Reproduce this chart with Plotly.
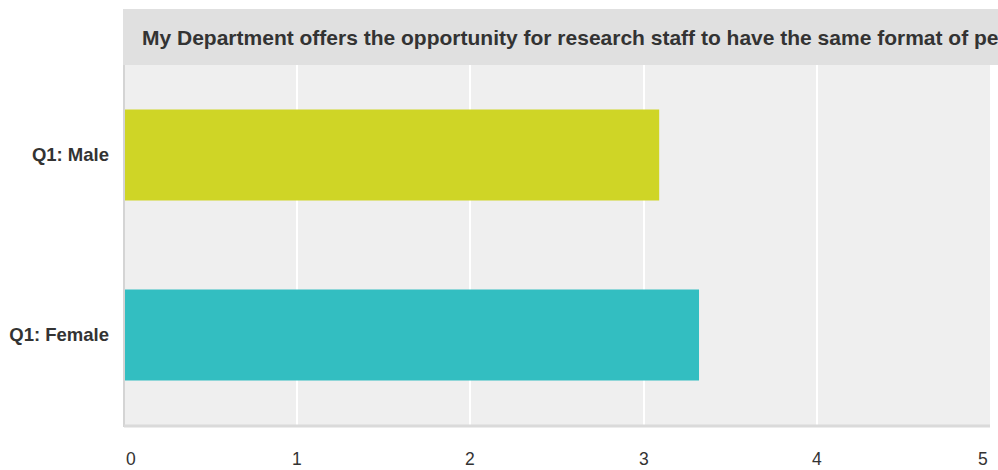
import plotly.graph_objects as go

# Survey responses: mean score per group
categories = ["Q1: Female", "Q1: Male"]
values = [3.32, 3.09]
bar_colors = ["#33bec1", "#cfd526"]
tick_values = [0, 1, 2, 3, 4, 5]
tick_labels = ["0", "1", "2", "3", "4", "5"]
title_text = ("My Department offers the opportunity for research staff to have the "
              "same format of pe")

FONT = "Liberation Sans, Arial, Helvetica, sans-serif"
TEXT = "#333333"
PLOT_W = 866   # plot area width in px
PLOT_H = 360   # plot area height in px

fig = go.Figure(
    go.Bar(
        y=categories,
        x=values,
        orientation="h",
        marker=dict(color=bar_colors, line=dict(width=0)),
        width=0.505,
        hoverinfo="x+y",
    )
)

# x tick labels placed as annotations so the end labels sit inside the plot edges
annotations = []
for v, lab in zip(tick_values, tick_labels):
    anchor = "left" if v == tick_values[0] else ("right" if v == tick_values[-1] else "center")
    annotations.append(dict(
        x=v, xref="x", y=0, yref="paper", yanchor="top", yshift=-22,
        xanchor=anchor, text=lab, showarrow=False,
        font=dict(family=FONT, size=17.5, color=TEXT),
    ))

# title banner text (runs off the right edge of the page)
annotations.append(dict(
    x=(140 - 124) / PLOT_W, xref="paper", y=1, yref="paper",
    text="<b>" + title_text + "</b>", showarrow=False,
    xanchor="left", yanchor="middle", yshift=28,
    font=dict(family=FONT, size=21, color=TEXT),
))

fig.update_layout(
    width=998,
    height=470,
    margin=dict(l=124, r=8, t=65, b=45),
    paper_bgcolor="white",
    plot_bgcolor="#efefef",
    showlegend=False,
    bargap=0.5,
    font=dict(family=FONT, color=TEXT),
    xaxis=dict(
        range=[0, 5],
        tickvals=tick_values,
        showticklabels=False,
        showgrid=True,
        gridcolor="white",
        gridwidth=2,
        zeroline=False,
        showline=False,
        fixedrange=True,
    ),
    yaxis=dict(
        categoryorder="array",
        categoryarray=categories,
        showgrid=False,
        zeroline=False,
        showline=False,
        ticks="",
        ticklabelstandoff=14,
        tickfont=dict(family=FONT, size=18.5, color=TEXT, weight="bold"),
        fixedrange=True,
    ),
    shapes=[
        # title banner
        dict(type="rect", xref="paper", yref="paper",
             x0=-1 / PLOT_W, x1=874 / PLOT_W, y0=1, y1=1 + 56 / PLOT_H,
             fillcolor="#e0e0e0", line=dict(width=0), layer="below"),
        # left axis border
        dict(type="line", xref="paper", yref="paper",
             x0=0, x1=0, y0=-2 / PLOT_H, y1=1,
             line=dict(color="#d4d4d4", width=2)),
        # bottom axis border
        dict(type="line", xref="paper", yref="paper",
             x0=0, x1=1, y0=-1 / PLOT_H, y1=-1 / PLOT_H,
             line=dict(color="#dadada", width=3)),
    ],
    annotations=annotations,
)

fig.write_html("out.html")
